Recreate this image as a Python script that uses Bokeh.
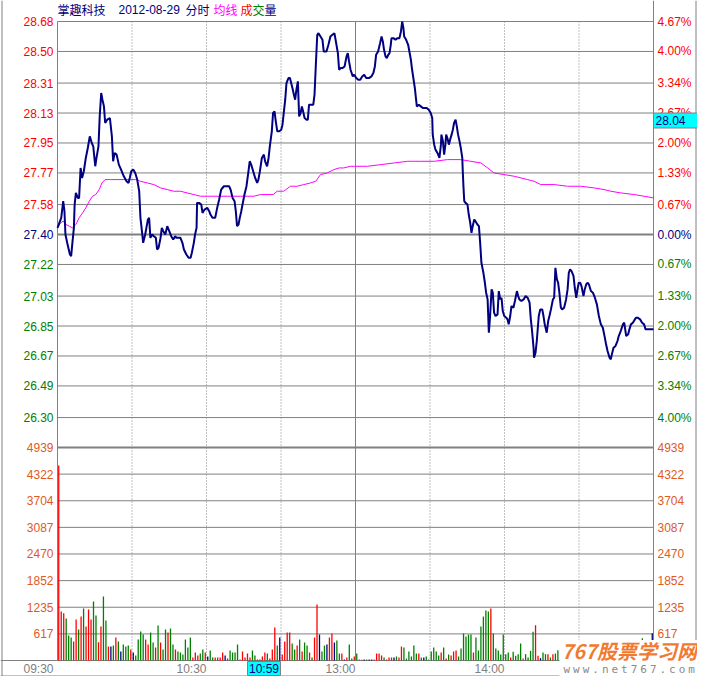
from bokeh.plotting import figure
from bokeh.models import Range1d
from bokeh.core.properties import value
from bokeh.embed import file_html
from bokeh.resources import INLINE

# ---------------- data ----------------
stock_name = "掌趣科技"
trade_date = "2012-08-29"
prev_close = 27.40
price_ticks = [28.68, 28.50, 28.31, 28.13, 27.95, 27.77, 27.58, 27.40,
               27.22, 27.03, 26.85, 26.67, 26.49, 26.30]
pct_labels = ["4.67%", "4.00%", "3.34%", "2.67%", "2.00%", "1.33%", "0.67%", "0.00%",
              "0.67%", "1.33%", "2.00%", "2.67%", "3.34%", "4.00%"]
vol_ticks = [4939, 4322, 3704, 3087, 2470, 1852, 1235, 617]
time_ticks = [0, 60, 120, 180]
time_labels = ["09:30", "10:30", "13:00", "14:00"]
grid_minutes = [30, 60, 90, 150, 180, 210]
session_break = 120
n_minutes = 240
cursor_minute = 89
cursor_time = "10:59"
cursor_price = 28.04
watermark_title = "767股票学习网"
watermark_url = "www.net767.com"

# minute since 09:30 (11:30 == 13:00 == 120), price
price_am = [
    (0.0, 27.44), (1.5, 27.50), (2.3, 27.60), (2.8, 27.54), (3.2, 27.40), (3.9, 27.35),
    (5.0, 27.28), (5.5, 27.27), (6.0, 27.35), (6.6, 27.44), (6.9, 27.58), (7.4, 27.65),
    (8.2, 27.62), (8.7, 27.62), (9.3, 27.80), (9.9, 27.74), (10.6, 27.78), (11.4, 27.86),
    (12.2, 27.92), (13.0, 27.99), (13.8, 27.95), (14.4, 27.93), (15.2, 27.81), (15.7, 27.86),
    (16.5, 27.93), (17.0, 28.11), (17.6, 28.25), (18.1, 28.21), (18.7, 28.17), (19.2, 28.07),
    (20.0, 28.09), (21.1, 28.10), (21.9, 27.99), (22.4, 27.84), (23.0, 27.89), (23.8, 27.88),
    (24.7, 27.82), (25.6, 27.79), (26.7, 27.75), (27.8, 27.72), (28.6, 27.71), (29.1, 27.74),
    (29.7, 27.78), (30.5, 27.79), (31.3, 27.77), (32.1, 27.73), (32.9, 27.66), (33.4, 27.50),
    (34.0, 27.42), (34.5, 27.35), (35.3, 27.40), (35.8, 27.44), (36.4, 27.49), (36.9, 27.50),
    (37.4, 27.38), (38.1, 27.40), (38.8, 27.39), (39.6, 27.38), (40.1, 27.31), (40.7, 27.32),
    (41.5, 27.38), (42.0, 27.44), (42.6, 27.42), (43.4, 27.40), (44.2, 27.45), (45.0, 27.42),
    (45.8, 27.39), (46.6, 27.37), (47.4, 27.39), (47.9, 27.38), (48.7, 27.38), (49.5, 27.38),
    (50.3, 27.35), (50.9, 27.31), (51.9, 27.28), (52.8, 27.26), (53.6, 27.26), (54.1, 27.29),
    (54.9, 27.35), (55.4, 27.40), (56.0, 27.44), (56.2, 27.59), (57.0, 27.59), (57.9, 27.58),
    (58.4, 27.53), (59.2, 27.55), (60.3, 27.56), (61.1, 27.54), (61.6, 27.52), (62.4, 27.50),
    (63.5, 27.50), (64.3, 27.56), (65.1, 27.61), (65.9, 27.67), (67.0, 27.69), (68.1, 27.69),
    (69.1, 27.69), (69.7, 27.67), (70.5, 27.62), (71.3, 27.60), (71.8, 27.54), (72.3, 27.45),
    (72.9, 27.46), (73.4, 27.50), (74.0, 27.54), (74.5, 27.58), (75.3, 27.64), (76.1, 27.69),
    (76.9, 27.78), (77.4, 27.84), (78.0, 27.82), (78.8, 27.78), (79.6, 27.74), (80.4, 27.71),
    (80.9, 27.73), (81.5, 27.78), (82.3, 27.86), (83.1, 27.88), (83.6, 27.84), (84.4, 27.81),
    (85.0, 27.86), (85.5, 27.93), (86.3, 28.02), (86.8, 28.13), (87.4, 28.14), (87.9, 28.08),
    (88.5, 28.02), (89.3, 28.02), (90.1, 28.03), (90.6, 28.06), (91.1, 28.13), (91.7, 28.21),
    (92.2, 28.31), (93.0, 28.34), (93.6, 28.34), (94.1, 28.31), (94.6, 28.28), (95.2, 28.24),
    (95.7, 28.21), (96.2, 28.27), (96.8, 28.32), (97.3, 28.11), (97.9, 28.13), (98.4, 28.17),
    (98.9, 28.14), (99.5, 28.10), (100.3, 28.09), (100.8, 28.09), (101.3, 28.18), (101.9, 28.18),
    (103.0, 28.18), (103.5, 28.24), (104.0, 28.41), (104.6, 28.60), (105.1, 28.61), (105.9, 28.59),
    (106.7, 28.57), (107.2, 28.50), (108.3, 28.50), (109.1, 28.54), (109.9, 28.59), (110.7, 28.60),
    (111.5, 28.61), (112.1, 28.56), (112.9, 28.49), (113.4, 28.39), (114.0, 28.40), (114.8, 28.40),
    (115.6, 28.41), (116.4, 28.47), (116.9, 28.49), (117.4, 28.44), (118.0, 28.39), (118.9, 28.35),
    (119.5, 28.36),
]
price_pm = [
    (120.3, 28.34), (121.1, 28.33), (121.9, 28.33), (122.7, 28.35), (123.5, 28.36), (124.3, 28.34),
    (125.4, 28.34), (126.4, 28.35), (127.2, 28.37), (127.8, 28.41), (128.3, 28.48), (129.1, 28.50),
    (129.9, 28.55), (130.5, 28.59), (131.0, 28.56), (131.5, 28.51), (132.1, 28.47), (132.6, 28.46),
    (133.2, 28.48), (133.7, 28.49), (134.2, 28.54), (134.5, 28.58), (135.3, 28.58), (136.1, 28.57),
    (136.9, 28.58), (137.7, 28.58), (138.3, 28.62), (138.8, 28.68), (139.3, 28.64), (139.6, 28.59),
    (140.4, 28.57), (141.2, 28.54), (141.7, 28.50), (142.3, 28.45), (142.8, 28.39), (143.4, 28.33),
    (143.9, 28.28), (144.4, 28.21), (144.7, 28.17), (145.5, 28.18), (146.3, 28.17), (147.1, 28.16),
    (147.9, 28.16), (148.7, 28.16), (149.5, 28.15), (150.3, 28.13), (150.9, 28.10), (151.1, 28.00),
    (151.7, 27.94), (152.2, 27.91), (153.0, 27.89), (153.8, 27.86), (154.4, 27.94), (154.6, 28.00),
    (155.2, 27.96), (155.7, 27.88), (156.2, 27.94), (156.5, 28.00), (157.0, 27.98), (157.6, 27.94),
    (158.1, 27.97), (158.7, 28.00), (159.2, 28.03), (159.7, 28.07), (160.3, 28.09), (160.8, 28.05),
    (161.3, 28.00), (161.9, 27.96), (162.4, 27.92), (163.0, 27.86), (163.2, 27.78), (163.5, 27.68),
    (163.8, 27.60), (164.3, 27.59), (165.1, 27.58), (165.6, 27.52), (166.2, 27.47), (166.7, 27.41),
    (167.2, 27.45), (167.8, 27.49), (168.3, 27.48), (169.1, 27.46), (169.7, 27.45), (170.2, 27.35),
    (170.7, 27.23), (171.5, 27.17), (172.1, 27.11), (172.6, 27.05), (173.2, 27.01), (173.7, 26.81),
    (174.2, 26.91), (174.8, 27.07), (175.3, 27.05), (175.8, 26.93), (176.4, 26.91), (177.2, 26.92),
    (177.7, 27.06), (178.3, 27.01), (178.8, 27.02), (179.3, 26.94), (179.9, 26.91), (180.7, 26.90),
    (181.2, 26.89), (181.7, 26.86), (182.3, 26.91), (182.8, 26.97), (183.6, 26.96), (184.2, 27.00),
    (185.0, 27.06), (185.5, 27.03), (186.0, 27.01), (186.8, 27.00), (187.7, 27.01), (188.5, 27.03),
    (189.3, 27.02), (190.1, 26.99), (190.6, 26.89), (191.1, 26.82), (191.7, 26.72), (191.9, 26.66),
    (192.5, 26.69), (193.0, 26.76), (193.8, 26.91), (194.4, 26.95), (195.2, 26.95), (195.7, 26.91),
    (196.2, 26.86), (197.0, 26.81), (197.6, 26.88), (198.1, 26.91), (198.7, 26.95), (199.5, 27.01),
    (200.0, 27.02), (200.5, 27.20), (201.1, 27.13), (201.6, 27.11), (202.1, 27.05), (202.7, 26.96),
    (203.2, 26.95), (204.0, 26.96), (204.8, 27.01), (205.4, 27.07), (205.9, 27.17), (206.4, 27.19),
    (207.0, 27.18), (207.8, 27.15), (208.3, 27.08), (208.9, 27.02), (209.4, 27.07), (209.9, 27.11),
    (210.5, 27.11), (211.0, 27.09), (211.8, 27.03), (212.3, 27.07), (212.9, 27.10), (213.4, 27.11),
    (214.0, 27.10), (214.8, 27.06), (215.6, 27.05), (216.4, 27.02), (217.2, 26.98), (218.0, 26.91),
    (218.8, 26.86), (219.6, 26.84), (220.4, 26.78), (220.9, 26.74), (221.5, 26.70), (222.3, 26.66),
    (222.8, 26.65), (223.4, 26.69), (223.9, 26.72), (224.7, 26.73), (225.5, 26.76), (226.0, 26.79),
    (226.8, 26.82), (227.7, 26.86), (228.2, 26.87), (229.0, 26.79), (229.8, 26.80), (230.3, 26.83),
    (230.9, 26.86), (231.7, 26.87), (232.5, 26.89), (233.0, 26.90), (233.6, 26.90), (234.6, 26.89),
    (235.4, 26.87), (236.2, 26.86), (236.8, 26.83), (237.6, 26.83), (238.9, 26.83), (240.0, 26.83),
]
avg_am = [
    (0.0, 27.44), (1.2, 27.47), (2.3, 27.48), (3.4, 27.46), (4.7, 27.45), (6.0, 27.44),
    (7.4, 27.46), (8.7, 27.50), (10.1, 27.53), (11.4, 27.56), (12.8, 27.60), (14.1, 27.63),
    (15.4, 27.64), (16.8, 27.67), (17.9, 27.71), (19.2, 27.73), (21.3, 27.73), (24.0, 27.73),
    (26.7, 27.73), (29.4, 27.73), (31.5, 27.73), (33.4, 27.72), (36.1, 27.71), (38.8, 27.70),
    (41.5, 27.68), (44.2, 27.67), (46.8, 27.66), (49.5, 27.66), (52.2, 27.65), (54.9, 27.64),
    (57.6, 27.63), (60.3, 27.63), (63.0, 27.63), (65.6, 27.63), (68.3, 27.63), (71.0, 27.63),
    (73.7, 27.63), (76.4, 27.63), (79.1, 27.63), (81.7, 27.64), (84.4, 27.64), (86.8, 27.64),
    (88.5, 27.66), (91.1, 27.66), (93.8, 27.69), (96.5, 27.69), (99.2, 27.70), (101.9, 27.71),
    (104.0, 27.72), (105.9, 27.76), (108.6, 27.77), (111.3, 27.79), (113.4, 27.80), (115.3, 27.80),
    (118.0, 27.81), (119.5, 27.81),
]
avg_pm = [
    (124.8, 27.81), (130.2, 27.82), (135.6, 27.83), (140.9, 27.84), (146.3, 27.84), (151.7, 27.84),
    (157.0, 27.85), (162.4, 27.85), (166.4, 27.84), (170.5, 27.83), (173.2, 27.80), (175.8, 27.77),
    (179.9, 27.76), (183.9, 27.75), (189.3, 27.73), (191.9, 27.72), (194.6, 27.70), (200.0, 27.70),
    (205.4, 27.69), (210.7, 27.69), (216.1, 27.68), (220.1, 27.67), (222.8, 27.66), (226.8, 27.65),
    (232.2, 27.64), (236.2, 27.63), (240.0, 27.62),
]

# per-minute volume (None = hidden under the watermark); direction 1 up, -1 down, 0 flat
volume_am = [
    4520, 1135, 1096, 973, 579, 533, 440, 950, 718, 1019,
    1204, 787, 1181, 950, 1366, 1042, 425, 787, 1482, 926,
    324, 324, 347, 533, 440, 208, 371, 324, 347, 255,
    185, 116, 486, 672, 602, 486, 371, 648, 417, 301,
    811, 417, 255, 718, 648, 741, 371, 255, 208, 185,
    139, 486, 301, 533, 69, 185, 116, 162, 255,
    185, 93, 232, 69, 69, 69, 69, 185, 116, 46,
    232, 185, 185, 371, 23, 208, 69, 162, 69, 232,
    116, 23, 23, 93, 185, 162, 46, 255, 764, 347,
    533, 139, 440, 648, 648, 394, 255, 347, 486, 208,
    417, 347, 185, 69, 533, 1297, 602, 208, 347, 371,
    533, 625, 417, 463, 162, 162, 23, 69, 371, 46,
    93,
]
dir_am = [
    1, 1, 1, -1, -1, -1, 1, 1, -1, 1,
    -1, 1, 1, 1, -1, -1, 1, 1, -1, -1,
    1, 0, -1, 1, -1, 0, -1, -1, -1, 1,
    0, -1, -1, -1, -1, 1, 1, -1, -1, 1,
    -1, 1, -1, -1, 1, -1, -1, 1, -1, -1,
    -1, -1, -1, -1, 1, 1, 1, -1, -1,
    1, 0, -1, -1, 1, 1, 1, 1, 0, 1,
    -1, -1, -1, -1, 1, 1, 1, 1, 1, -1,
    -1, 1, 1, 1, 1, -1, 1, 1, 1, -1,
    0, 1, 1, 1, 1, -1, -1, 1, -1, 1,
    -1, -1, 1, -1, 1, 1, 0, -1, -1, 0,
    1, 1, 0, -1, -1, 1, 0, 1, -1, -1,
    1,
]
volume_pm = [
    162, 23, 15, 23, 23, 23, 23, 23, 162, 162,
    116, 69, 23, 69, 69, 69, 93, 69, 324, 301,
    46, 208, 93, 347, 162, 162, 69, 69, 93, 23,
    208, 301, 208, 116, 185, 301, 46, 139, 116, 208,
    232, 93, 278, 625, 556, 602, 602, 185, 533, 232,
    787, 1019, 1158, 1135, 1204, 625, 278, 232, 139, 602,
    147, 185, 70, 200, 108, 147, 394, 46, 147, 70,
    224, 664, 818, 108, 54, 185, 147, 147, 70, 147,
    162, 240] + [None] * 33 + [517, None, None, None, 631]
dir_pm = [
    -1, 1, 1, 0, -1, 0, 0, 1, 1, 1,
    1, -1, 1, 1, 1, 0, -1, 1, 1, -1,
    -1, -1, -1, -1, -1, 1, -1, 0, -1, -1,
    -1, -1, -1, -1, 1, -1, 1, -1, 1, 1,
    1, -1, -1, -1, -1, -1, -1, 1, -1, -1,
    -1, -1, -1, -1, 1, -1, -1, -1, -1, -1,
    -1, -1, 1, -1, -1, -1, -1, 1, -1, -1,
    -1, -1, 1, 1, 0, -1, -1, 1, -1, 1,
    -1, -1] + [0] * 33 + [-1, 0, 0, 0, 0]

# ---------------- style ----------------
NAVY, RED, GREEN, MAG = "#000080", "#ff0000", "#008000", "#ff00ff"
GRAY, ORANGE, CYAN, TGRAY = "#808080", "#e05a1e", "#00ffff", "#808080"
SANS = value("Liberation Sans")
CJK = value("Noto Sans CJK SC")
dir_color = {1: RED, -1: GREEN, 0: NAVY}

# ---------------- layout (canvas px) ----------------
W, H = 697, 676
PL, PR = 57, 653
YT, YM, YB = 21, 447, 660
TIME_Y = 668
TITLE_Y = 9
ppm = (PR - PL) / n_minutes
x_start, x_end = -PL / ppm, (W - PL) / ppm
p_hi = price_ticks[0]
p_lo = 2 * prev_close - p_hi
ppy = (YM - YT) / (p_hi - p_lo)
y_end = p_hi + YT / ppy
y_start = p_lo - (H - YM) / ppy
vpp = vol_ticks[0] / (YB - YM)
v_start, v_end = -(H - YB) * vpp, YB * vpp


def py(cy):
    return y_end - cy / ppy


def mx(cx):
    return x_start + cx / ppm


p = figure(width=W, height=H, x_range=Range1d(x_start, x_end), y_range=Range1d(y_start, y_end),
           output_backend="svg", toolbar_location=None, min_border=0,
           x_axis_location=None, y_axis_location=None)
p.extra_y_ranges = {"vol": Range1d(v_start, v_end)}
p.xgrid.visible = False
p.ygrid.visible = False
p.outline_line_color = None
p.background_fill_color = "white"
p.border_fill_color = "white"

# grid
n = len(price_ticks)
p.segment(x0=[0] * n, x1=[n_minutes] * n, y0=price_ticks, y1=price_ticks, line_color=GRAY,
          line_width=[2 if v == prev_close else 1 for v in price_ticks])
m = len(vol_ticks)
p.segment(x0=[0] * m, x1=[n_minutes] * m, y0=vol_ticks, y1=vol_ticks, line_color=GRAY,
          line_width=[2] + [1] * (m - 1), y_range_name="vol")
k = len(grid_minutes)
p.segment(x0=grid_minutes, x1=grid_minutes, y0=[p_hi] * k, y1=[py(YB)] * k,
          line_color=GRAY, line_width=1, line_dash="1 2")
p.segment(x0=[session_break, 0], x1=[session_break, 0], y0=[p_hi, p_hi], y1=[py(YB), py(YB)],
          line_color=GRAY, line_width=1)
# right axis, outer frame
p.segment(x0=[n_minutes, mx(W - 1.5), mx(1.5)], x1=[n_minutes, mx(W - 1.5), mx(1.5)],
          y0=[y_start] * 3, y1=[y_end] * 3, line_color=GRAY, line_width=1)
p.segment(x0=[x_start], x1=[x_end], y0=[py(H - 0.5)], y1=[py(H - 0.5)], line_color=GRAY, line_width=1)
p.segment(x0=[x_start], x1=[x_end], y0=[0], y1=[0], line_color=GRAY, line_width=1, y_range_name="vol")

# volume bars
volume = volume_am + volume_pm
vdir = dir_am + dir_pm
bx = [i + 0.5 for i, v in enumerate(volume) if v is not None]
bt = [v for v in volume if v is not None]
bc = [dir_color[d] for v, d in zip(volume, vdir) if v is not None]
p.vbar(x=bx, top=bt, bottom=0, width=1.3 / ppm, fill_color=bc, line_color=None, y_range_name="vol")

# average and price lines
avg = avg_am + avg_pm
price = price_am + price_pm
p.line([t for t, _ in avg], [v for _, v in avg], line_color=MAG, line_width=1)
p.line([t for t, _ in price], [v for _, v in price], line_color=NAVY, line_width=2)

# axis labels
lab_col = [RED if v > prev_close else (NAVY if v == prev_close else GREEN) for v in price_ticks]
p.text(x=[0] * n, y=price_ticks, text=[f"{v:.2f}" for v in price_ticks], x_offset=-4,
       text_align="right", text_baseline="middle", text_color=lab_col,
       text_font=SANS, text_font_size="12px")
p.text(x=[n_minutes] * n, y=price_ticks, text=pct_labels, x_offset=4,
       text_align="left", text_baseline="middle", text_color=lab_col,
       text_font=SANS, text_font_size="12px")
p.text(x=[0] * m, y=vol_ticks, text=[str(v) for v in vol_ticks], x_offset=-4,
       text_align="right", text_baseline="middle", text_color=ORANGE,
       text_font=SANS, text_font_size="12px", y_range_name="vol")
p.text(x=[n_minutes] * m, y=vol_ticks, text=[str(v) for v in vol_ticks], x_offset=4,
       text_align="left", text_baseline="middle", text_color=ORANGE,
       text_font=SANS, text_font_size="12px", y_range_name="vol")
p.text(x=time_ticks, y=[py(TIME_Y)] * len(time_ticks), text=time_labels,
       x_offset=[-4] + [0] * (len(time_ticks) - 1),
       text_align="right", text_baseline="middle", text_color=TGRAY,
       text_font=SANS, text_font_size="12px")

# cursor boxes
bx_r = cursor_minute + 2 / ppm
p.quad(left=[bx_r - 33 / ppm], right=[bx_r], bottom=[py(H - 1)], top=[py(YB + 1)],
       fill_color=CYAN, line_color=GRAY, line_width=1)
p.text(x=[bx_r - 16.5 / ppm], y=[py(TIME_Y)], text=[cursor_time], text_align="center",
       text_baseline="middle", text_color=NAVY, text_font=SANS, text_font_size="12px")
p.quad(left=[n_minutes], right=[n_minutes + 50 / ppm], bottom=[cursor_price],
       top=[cursor_price + 15 / ppy], fill_color=CYAN, line_color=GRAY, line_width=1)
p.text(x=[n_minutes], y=[cursor_price + 7.5 / ppy], text=[f"{cursor_price:.2f}"], x_offset=2,
       text_align="left", text_baseline="middle", text_color=NAVY,
       text_font=SANS, text_font_size="12px")

# title
title_parts = [(stock_name, NAVY, 0, CJK), (trade_date, NAVY, 61, SANS), ("分时", NAVY, 128, CJK),
               ("均线", MAG, 156, CJK), ("成", RED, 183, CJK), ("交", GREEN, 195, CJK),
               ("量", NAVY, 207, CJK)]
for txt, col, off, fnt in title_parts:
    p.text(x=[0], y=[py(TITLE_Y)], text=[txt], x_offset=off, text_align="left", text_baseline="middle",
           text_color=col, text_font=fnt, text_font_size="12px")

# watermark
p.quad(left=[mx(559)], right=[x_end], bottom=[y_start], top=[py(YB - 20.5)],
       fill_color="white", line_color=None)
p.text(x=[mx(561)], y=[py(YB - 10)], text=[watermark_title], text_align="left", text_baseline="middle",
       text_color="#f07a30", text_font=CJK, text_font_size="20px", text_font_style="bold italic")
url_chars = list(watermark_url)
p.text(x=[mx(563 + 9.6 * i) for i in range(len(url_chars))], y=[py(YB + 8.5)] * len(url_chars),
       text=url_chars, text_align="left", text_baseline="middle",
       text_color="#8a8a8a", text_font=value("DejaVu Sans Mono"), text_font_size="11px")

open("out.html", "w").write(file_html(p, INLINE))
